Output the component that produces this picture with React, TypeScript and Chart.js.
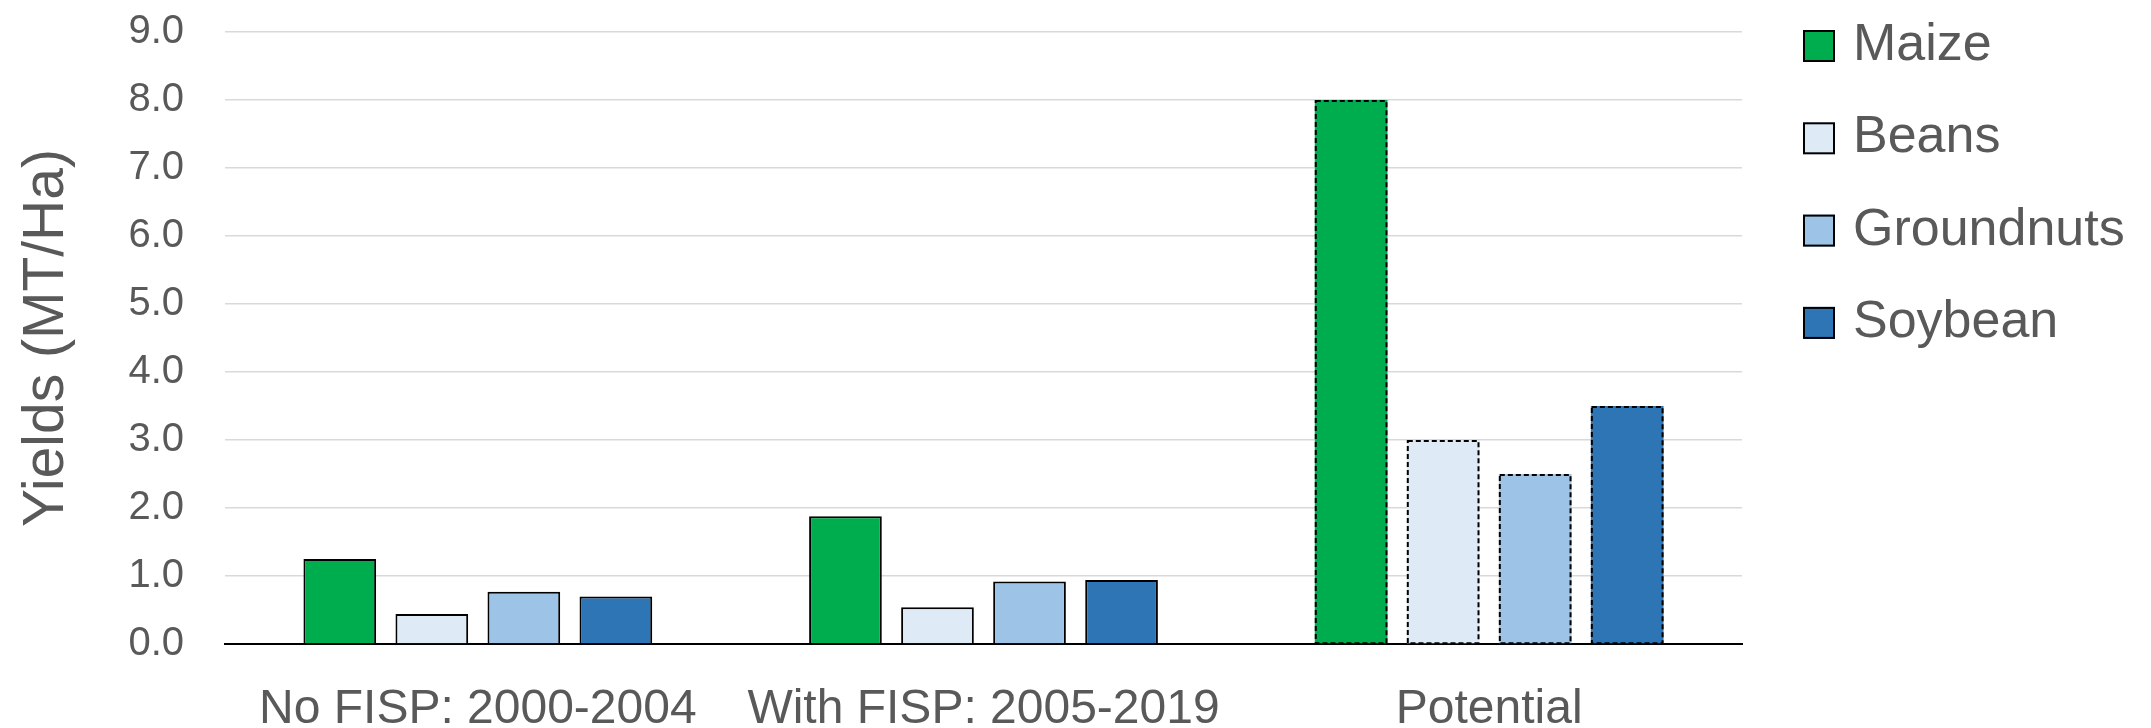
import React, { useEffect, useRef } from "react";
import { Chart, registerables } from "chart.js";

Chart.register(...registerables);

// ---- data ----
const categories = ["No FISP: 2000-2004", "With FISP: 2005-2019", "Potential"];
const seriesNames = ["Maize", "Beans", "Groundnuts", "Soybean"];
const maize = [1.25, 1.88, 8.0];
const beans = [0.44, 0.54, 3.0];
const groundnuts = [0.77, 0.92, 2.5];
const soybean = [0.7, 0.94, 3.5];
const yMin = 0;
const yMax = 9;
const yStep = 1;
const yTitle = "Yields (MT/Ha)";

// ---- styles ----
const seriesColors = ["#00AD4E", "#DEEAF6", "#9DC3E6", "#2E75B6"];
const FONT = "'Liberation Sans', Arial, sans-serif";
const TEXT = "#595959";
const DASHED_INDEX = 2; // "Potential" bars have dashed outlines

const dashedBorderPlugin = {
  id: "dashedBorder",
  afterDatasetsDraw(chart: any) {
    const ctx = chart.ctx;
    ctx.save();
    ctx.strokeStyle = "#000";
    ctx.lineWidth = 2;
    ctx.setLineDash([5, 3]);
    chart.data.datasets.forEach((_: any, di: number) => {
      const meta = chart.getDatasetMeta(di);
      const el = meta.data[DASHED_INDEX];
      if (!el) return;
      const { x, y, base, width } = el.getProps(["x", "y", "base", "width"], true);
      ctx.strokeRect(x - width / 2 + 1, y + 1, width - 2, base - y - 1);
    });
    ctx.restore();
  },
};

const sideLegendPlugin = {
  id: "sideLegend",
  afterDraw(chart: any) {
    const { ctx, chartArea } = chart;
    const boxLeft = chartArea.right + 61;
    const box = 32;
    const step = 92.3;
    const top0 = chartArea.top - 2;
    ctx.save();
    ctx.font = `52px ${FONT}`;
    ctx.textBaseline = "alphabetic";
    ctx.textAlign = "left";
    chart.data.datasets.forEach((ds: any, i: number) => {
      const t = top0 + i * step;
      ctx.fillStyle = ds.backgroundColor;
      ctx.fillRect(boxLeft, t, box, box);
      ctx.setLineDash([]);
      ctx.lineWidth = 2;
      ctx.strokeStyle = "#000";
      ctx.strokeRect(boxLeft + 1, t + 1, box - 2, box - 2);
      ctx.fillStyle = TEXT;
      ctx.fillText(ds.label, boxLeft + 50, t + 30);
    });
    ctx.restore();
  },
};

export default function App() {
  const ref = useRef<HTMLCanvasElement | null>(null);

  useEffect(() => {
    document.body.style.margin = "0";
    const canvas = ref.current;
    if (!canvas) return;
    const values = [maize, beans, groundnuts, soybean];
    const chart = new Chart(canvas, {
      type: "bar",
      data: {
        labels: categories,
        datasets: seriesNames.map((name, i) => ({
          label: name,
          data: values[i],
          backgroundColor: seriesColors[i],
          borderColor: "#000",
          borderWidth: (c: any) => (c.dataIndex === DASHED_INDEX ? 0 : 2),
          categoryPercentage: 0.728,
          barPercentage: 0.79,
        })),
      },
      options: {
        animation: false,
        responsive: false,
        layout: { padding: { left: 0, top: 32, right: 409, bottom: 0 } },
        plugins: {
          legend: { display: false },
          tooltip: { enabled: false },
        },
        scales: {
          x: {
            grid: { display: false, drawTicks: false },
            border: { display: true, color: "#000", width: 2 },
            ticks: {
              color: TEXT,
              font: { family: FONT, size: 48 },
              padding: 37,
              maxRotation: 0,
              autoSkip: false,
            },
            afterFit: (s: any) => {
              s.height = 84;
              s.paddingLeft = 0;
              s.paddingRight = 0;
            },
          },
          y: {
            min: yMin,
            max: yMax,
            ticks: {
              stepSize: yStep,
              callback: (v: any) => Number(v).toFixed(1),
              color: TEXT,
              font: { family: FONT, size: 40 },
              padding: 41,
            },
            grid: {
              color: (c: any) => (c.tick && c.tick.value === 0 ? "#000" : "#D9D9D9"),
              lineWidth: 1.5,
              drawTicks: false,
            },
            border: { display: false },
            title: {
              display: true,
              text: yTitle,
              color: TEXT,
              font: { family: FONT, size: 57 },
              padding: { top: 13, bottom: 0 },
            },
            afterFit: (s: any) => {
              s.width = 225;
              s.paddingTop = 0;
              s.paddingBottom = 0;
            },
          },
        },
      } as any,
      plugins: [dashedBorderPlugin, sideLegendPlugin],
    });
    return () => chart.destroy();
  }, []);

  return (
    <div style={{ width: 2151, height: 728, background: "#fff" }}>
      <canvas ref={ref} width={2151} height={728} style={{ display: "block" }} />
    </div>
  );
}
